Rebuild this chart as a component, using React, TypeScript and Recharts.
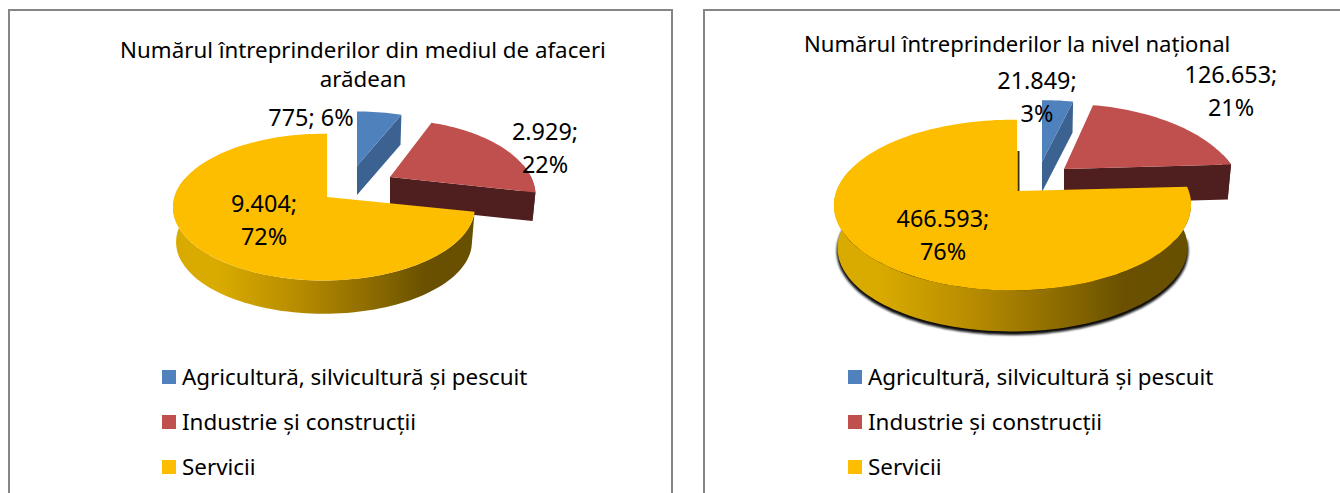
import React from "react";
import { PieChart, Pie, Legend } from "recharts";

const categories = ["Agricultură, silvicultură și pescuit", "Industrie și construcții", "Servicii"];
const colors = ["#4F81BD", "#C0504D", "#FDBE00"];

const aradValues = [775, 2929, 9404];
const aradPercents = [6, 22, 72];
const nationalValues = [21849, 126653, 466593];
const nationalPercents = [3, 21, 76];

const FONT = "'Noto Sans', sans-serif";

interface Wedge {
  x: number;
  y: number;
  rx: number;
  ry: number;
  p: number;
  px: number;
  depth: number;
  shrink: number;
  wall: string;
  face: string;
}

const aradWedges: Wedge[] = [
  { x: 357, y: 166, rx: 138, ry: 62, p: 0.137, px: 0, depth: 29, shrink: 0.98, wall: "#3B6291", face: "#3B6291" },
  { x: 390, y: 177, rx: 141, ry: 71.7, p: 0.25, px: 0, depth: 29, shrink: 0.98, wall: "#4F1F1F", face: "#4F1F1F" },
  { x: 327, y: 197, rx: 149.5, ry: 72, p: 0.137, px: 0.02, depth: 35, shrink: 0.98, wall: "url(#wall-arad)", face: "#6A5000" },
];

const nationalWedges: Wedge[] = [
  { x: 1042, y: 162, rx: 163, ry: 72, p: 0.165, px: 0, depth: 30, shrink: 0.98, wall: "#3B6291", face: "#3B6291" },
  { x: 1064, y: 169, rx: 170, ry: 85, p: 0.306, px: 0, depth: 35, shrink: 0.98, wall: "#4F1F1F", face: "#4F1F1F" },
  { x: 1017, y: 191, rx: 176, ry: 83, p: 0.165, px: 0.025, depth: 43, shrink: 0.98, wall: "url(#wall-national)", face: "#6A5000" },
];

const aradLabels = [
  { x: 311, y: 117 },
  { x: 545, y: 131 },
  { x: 264, y: 203 },
];
const nationalLabels = [
  { x: 1037, y: 80 },
  { x: 1231, y: 74 },
  { x: 943, y: 218 },
];

const fmt = (v: number) => String(v).replace(/\B(?=(\d{3})+$)/g, ".");

function project(g: Wedge, angle: number, bottom = false) {
  const t = (angle * Math.PI) / 180;
  const u = Math.sin(t);
  const v = -Math.cos(t);
  const s = 1 / (1 - g.p * v + g.px * u);
  const k = bottom ? g.shrink : 1;
  return {
    x: g.x + g.rx * u * s * k,
    y: g.y + g.ry * v * s * k + (bottom ? g.depth : 0),
  };
}

function arc(g: Wedge, from: number, to: number, bottom = false) {
  const pts = [];
  const n = Math.max(2, Math.ceil(Math.abs(to - from) / 2));
  for (let i = 0; i <= n; i++) pts.push(project(g, from + ((to - from) * i) / n, bottom));
  return pts;
}

const toPath = (pts: { x: number; y: number }[]) =>
  "M" + pts.map((p) => `${p.x.toFixed(1)},${p.y.toFixed(1)}`).join("L") + "Z";

function makeShape(wedges: Wedge[], id: string, shadow: boolean) {
  return function Shape(props: any) {
    const g = wedges[categories.indexOf(props.name)];
    const from = 90 - props.startAngle;
    const to = 90 - props.endAngle;
    const apexTop = { x: g.x, y: g.y };
    const apexBottom = { x: g.x, y: g.y + g.depth };
    const wallFrom = Math.max(from, 80);
    const wallTo = Math.min(to, 285);
    const hasWall = wallTo > wallFrom;
    const wallPts = hasWall ? [...arc(g, wallFrom, wallTo), ...arc(g, wallTo, wallFrom, true)] : [];
    const endTop = project(g, to);
    const endBottom = project(g, to, true);
    const isLast = to >= 359;
    return (
      <g>
        <defs>
          <linearGradient id={id} gradientUnits="userSpaceOnUse" x1={g.x - g.rx} x2={g.x + g.rx} y1={0} y2={0}>
            <stop offset="0" stopColor="#D9AB00" />
            <stop offset="0.3" stopColor="#B58A00" />
            <stop offset="0.6" stopColor="#846500" />
            <stop offset="0.75" stopColor="#6A5000" />
            <stop offset="1" stopColor="#665000" />
          </linearGradient>
          <filter id={id + "-blur"} x="-10%" y="-10%" width="120%" height="120%">
            <feGaussianBlur stdDeviation="1" />
          </filter>
        </defs>
        {shadow && isLast && (
          <>
            <path
              d={toPath(arc({ ...g, depth: g.depth + 3, shrink: g.shrink + 0.005 }, 92, 280, true))}
              fill="#111"
              filter={`url(#${id}-blur)`}
            />
            <line x1={g.x + 1.5} x2={g.x + 1.5} y1={g.y - 40} y2={g.y} stroke="#3A3000" strokeWidth={2} />
          </>
        )}
        {!isLast && <path d={toPath([apexTop, endTop, endBottom, apexBottom])} fill={g.face} />}
        {hasWall && <path d={toPath(wallPts)} fill={g.wall} />}
        <path d={toPath([apexTop, ...arc(g, from, to)])} fill={props.fill} />
      </g>
    );
  };
}

function makeLabel(positions: { x: number; y: number }[], values: number[], percents: number[], singleLine: number) {
  return function PieLabel(props: any) {
    const i = categories.indexOf(props.name);
    const pos = positions[i];
    const common = { fontFamily: FONT, fontSize: 23.4, fill: "#000", textAnchor: "middle" as const, dominantBaseline: "central" as const };
    if (i === singleLine) {
      return <text x={pos.x} y={pos.y} {...common}>{`${fmt(values[i])}; ${percents[i]}%`}</text>;
    }
    return (
      <g>
        <text x={pos.x} y={pos.y} {...common}>{`${fmt(values[i])};`}</text>
        <text x={pos.x} y={pos.y + 33} {...common}>{`${percents[i]}%`}</text>
      </g>
    );
  };
}

function legendContent(left: number) {
  return function LegendContent({ payload }: any) {
    return (
      <div style={{ position: "absolute", left, top: 354 }}>
        {(payload || []).map((entry: any) => (
          <div key={entry.value} style={{ height: 45, display: "flex", alignItems: "center", fontFamily: FONT, fontSize: 22.4, color: "#000", whiteSpace: "nowrap" }}>
            <span style={{ width: 14, height: 14, background: entry.color, marginRight: 6, display: "inline-block" }} />
            {entry.value}
          </div>
        ))}
      </div>
    );
  };
}

interface PanelProps {
  values: number[];
  percents: number[];
  wedges: Wedge[];
  labels: { x: number; y: number }[];
  id: string;
  legendLeft: number;
  shadow: boolean;
  singleLine: number;
}

function Panel({ values, percents, wedges, labels, id, legendLeft, shadow, singleLine }: PanelProps) {
  const data = categories.map((name, i) => ({ name, value: values[i], fill: colors[i] }));
  return (
    <div style={{ position: "absolute", left: 0, top: 0 }}>
      <PieChart width={1340} height={493} margin={{ top: 0, right: 0, bottom: 0, left: 0 }}>
        <Pie
          data={data}
          dataKey="value"
          nameKey="name"
          cx={wedges[2].x}
          cy={wedges[2].y}
          outerRadius={wedges[2].ry}
          startAngle={90}
          endAngle={-270}
          stroke="none"
          isAnimationActive={false}
          labelLine={false}
          label={makeLabel(labels, values, percents, singleLine)}
          shape={makeShape(wedges, "wall-" + id, shadow)}
        />
        <Legend content={legendContent(legendLeft)} wrapperStyle={{ position: "absolute", left: 0, top: 0, width: 0, height: 0 }} />
      </PieChart>
    </div>
  );
}

const frame = (left: number, width: number): React.CSSProperties => ({
  position: "absolute",
  left,
  top: 9,
  width,
  height: 490,
  border: "2px solid #868686",
  boxSizing: "border-box",
});

const titleStyle: React.CSSProperties = {
  position: "absolute",
  fontFamily: FONT,
  fontSize: 22.3,
  lineHeight: "29px",
  color: "#000",
  whiteSpace: "nowrap",
};

export default function App() {
  return (
    <div style={{ position: "absolute", left: 0, top: 0, width: 1340, height: 493, overflow: "hidden", background: "#fff" }}>
      <div style={frame(8, 665)} />
      <div style={frame(703, 640)} />
      <Panel values={aradValues} percents={aradPercents} wedges={aradWedges} labels={aradLabels} id="arad" legendLeft={162} shadow={false} singleLine={0} />
      <Panel values={nationalValues} percents={nationalPercents} wedges={nationalWedges} labels={nationalLabels} id="national" legendLeft={848} shadow={true} singleLine={-1} />
      <div style={{ ...titleStyle, left: 63, width: 600, top: 35, textAlign: "center" }}>
        Numărul întreprinderilor din mediul de afaceri
        <br />
        arădean
      </div>
      <div style={{ ...titleStyle, fontSize: 22.1, left: 804, top: 29 }}>Numărul întreprinderilor la nivel național</div>
    </div>
  );
}
